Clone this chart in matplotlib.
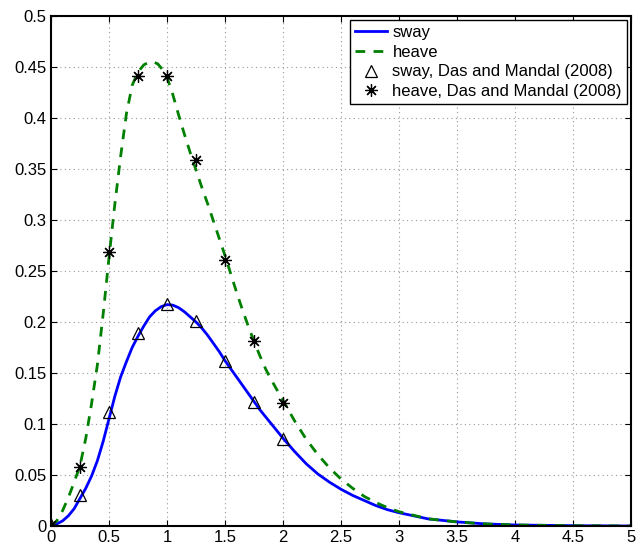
import numpy as np
import matplotlib
matplotlib.use("Agg")
import matplotlib.pyplot as plt

# curves
x_sway = [0, 0.05, 0.1, 0.15, 0.2, 0.25, 0.3, 0.35, 0.4, 0.45, 0.5, 0.55, 0.6, 0.65,
          0.7, 0.75, 0.8, 0.85, 0.9, 0.95, 1.0, 1.05, 1.1, 1.15, 1.2, 1.25, 1.3, 1.35,
          1.4, 1.45, 1.5, 1.55, 1.6, 1.65, 1.7, 1.75, 1.8, 1.85, 1.9, 1.95, 2.0, 2.1,
          2.2, 2.3, 2.4, 2.5, 2.6, 2.7, 2.8, 2.9, 3.0, 3.25, 3.5, 3.75, 4.0, 4.5, 5.0]
y_sway = [0, 0.002, 0.005, 0.010, 0.017, 0.027, 0.037, 0.049, 0.064, 0.083, 0.105, 0.127,
          0.146, 0.161, 0.175, 0.186, 0.196, 0.205, 0.211, 0.215, 0.217, 0.2165, 0.214,
          0.21, 0.205, 0.2, 0.194, 0.187, 0.179, 0.171, 0.162, 0.154, 0.146, 0.138, 0.13,
          0.122, 0.114, 0.107, 0.1, 0.093, 0.086, 0.073, 0.061, 0.051, 0.043, 0.036,
          0.030, 0.025, 0.020, 0.016, 0.013, 0.007, 0.004, 0.002, 0.001, 0.0003, 0.0]

x_heave = [0, 0.05, 0.1, 0.15, 0.2, 0.25, 0.3, 0.35, 0.4, 0.45, 0.5, 0.55, 0.6, 0.65,
           0.7, 0.75, 0.8, 0.85, 0.88, 0.92, 0.95, 1.0, 1.05, 1.1, 1.15, 1.2, 1.25, 1.3,
           1.35, 1.4, 1.45, 1.5, 1.55, 1.6, 1.65, 1.7, 1.75, 1.8, 1.85, 1.9, 1.95, 2.0,
           2.1, 2.2, 2.3, 2.4, 2.5, 2.6, 2.7, 2.8, 2.9, 3.0, 3.25, 3.5, 3.75, 4.0, 4.5,
           5.0]
y_heave = [0, 0.005, 0.015, 0.028, 0.043, 0.059, 0.086, 0.12, 0.158, 0.208, 0.263, 0.315,
           0.362, 0.404, 0.432, 0.445, 0.452, 0.455, 0.455, 0.453, 0.449, 0.44, 0.423,
           0.403, 0.384, 0.366, 0.349, 0.332, 0.316, 0.299, 0.282, 0.265, 0.247, 0.229,
           0.212, 0.196, 0.181, 0.167, 0.154, 0.143, 0.133, 0.123, 0.103, 0.085, 0.070,
           0.057, 0.046, 0.037, 0.029, 0.023, 0.018, 0.014, 0.007, 0.004, 0.002, 0.001,
           0.0003, 0.0]

# Das and Mandal (2008) points
x_ref = [0, 0.25, 0.5, 0.75, 1.0, 1.25, 1.5, 1.75, 2.0]
sway_ref = [0.001, 0.030, 0.112, 0.189, 0.218, 0.201, 0.162, 0.122, 0.085]
heave_ref = [0.001, 0.058, 0.269, 0.441, 0.441, 0.359, 0.261, 0.181, 0.121]

plt.rcParams['font.family'] = ['Liberation Sans', 'DejaVu Sans']

fig = plt.figure(figsize=(6.42, 5.49), dpi=100)
ax = fig.add_axes([0.0794, 0.0419, 0.9036, 0.9291])

ax.plot(x_sway, y_sway, color='blue', lw=2, label='sway')
ax.plot(x_heave, y_heave, color='green', lw=2, ls=(0, (3.5, 3)), label='heave')
ax.plot(x_ref, sway_ref, ls='none', marker='^', ms=9, mfc='none', mec='black',
        mew=0.9, label='sway, Das and Mandal (2008)')
ax.plot(x_ref, heave_ref, ls='none', marker=(8, 2, 0), ms=9, mec='black',
        mew=0.9, color='black', label='heave, Das and Mandal (2008)')

ax.set_xlim(0, 5)
ax.set_ylim(0, 0.5)
ax.set_xticks(np.arange(0, 5.01, 0.5))
ax.set_yticks(np.arange(0, 0.501, 0.05))
ax.set_xticklabels(['0', '0.5', '1', '1.5', '2', '2.5', '3', '3.5', '4', '4.5', '5'])
ax.set_yticklabels(['0', '0.05', '0.1', '0.15', '0.2', '0.25', '0.3', '0.35', '0.4',
                    '0.45', '0.5'])
ax.tick_params(direction='in', length=4, width=0.8, labelsize=12, top=True, right=True,
               pad=3)
ax.grid(True, ls=(0, (1, 3)), color='#999999', lw=0.8)
for s in ax.spines.values():
    s.set_linewidth(1.5)

leg = ax.legend(loc='upper right', fontsize=12, frameon=True, fancybox=False,
                edgecolor='black', framealpha=1, borderpad=0.3, labelspacing=0.28,
                handlelength=1.9, handletextpad=0.35, borderaxespad=0.25)
leg.get_frame().set_linewidth(1.0)

fig.savefig('out.png', dpi=100)
